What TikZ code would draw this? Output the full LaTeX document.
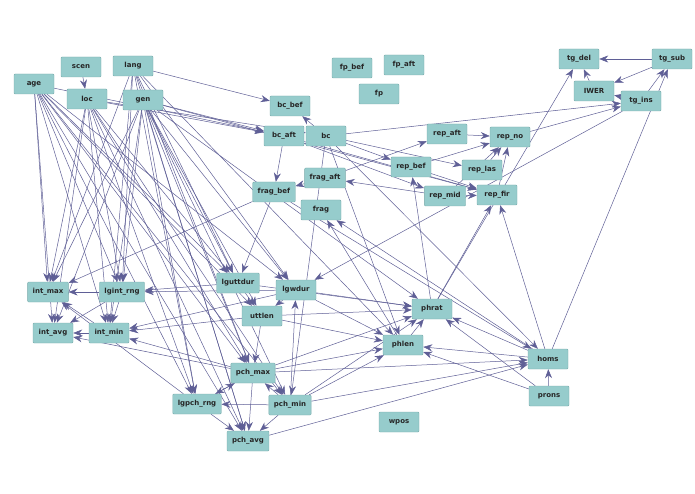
\documentclass[tikz,border=0pt]{standalone}
\usepackage{fontspec}
\setmainfont{DejaVu Sans}
\usetikzlibrary{arrows.meta,backgrounds}
\definecolor{boxfill}{RGB}{150,204,204}
\definecolor{boxline}{RGB}{120,170,170}
\definecolor{edge}{RGB}{95,95,150}
\tikzset{
 nd/.style={draw=boxline,fill=boxfill,rounded corners=1pt,minimum height=20pt,minimum width=40pt,inner xsep=5pt,font=\bfseries\fontsize{7}{8}\selectfont,text=black!85},
 ed/.style={draw=edge,line width=0.5pt,-{Stealth[length=9pt,width=7pt]}},
}
\begin{document}
\begin{tikzpicture}[x=1pt,y=-1pt]
\useasboundingbox (0,0) rectangle (695,494);
\foreach \n/\x/\y/\t in {age/34/84/age,scen/81/67/scen,lang/133/66/lang,loc/87/99/loc,gen/143/100/gen,
 fpbef/352/68/fp\_bef,fpaft/404/65/fp\_aft,fp/379/94/fp,bcbef/290/106/bc\_bef,bcaft/284/136/bc\_aft,bc/326/136/bc,
 repaft/447/134/rep\_aft,repno/510/137/rep\_no,repbef/411/167/rep\_bef,replas/482/170/rep\_las,repmid/445/196/rep\_mid,
 repfir/497/195/rep\_fir,fragaft/325/178/frag\_aft,fragbef/274/192/frag\_bef,frag/321/210/frag,
 tgdel/579/59/tg\_del,tgsub/672/59/tg\_sub,IWER/594/91/IWER,tgins/641/101/tg\_ins,
 intmax/48/292/int\_max,lgintrng/122/292/lgint\_rng,lguttdur/238/283/lguttdur,lgwdur/296/290/lgwdur,uttlen/262/316/uttlen,
 phrat/432/309/phrat,intavg/53/333/int\_avg,intmin/109/333/int\_min,phlen/403/345/phlen,homs/548/359/homs,
 pchmax/253/373/pch\_max,prons/549/396/prons,lgpchrng/197/404/lgpch\_rng,pchmin/290/405/pch\_min,wpos/399/422/wpos,pchavg/248/441/pch\_avg}
 \node[nd] (\n) at (\x,\y) {\t};
\begin{scope}[on background layer]
\foreach \s/\ts in {age/{intmax,intavg,intmin,lgintrng,lguttdur,lgwdur,pchmax,lgpchrng,pchmin,pchavg,uttlen,bcaft},
 loc/{intmax,intavg,intmin,lgintrng,lguttdur,pchmax,lgpchrng,pchmin,pchavg,bc,bcaft},
 lang/{intmax,lgintrng,intmin,lguttdur,lgwdur,pchmax,lgpchrng,pchavg,bcbef,phlen},
 gen/{intmax,intavg,lgintrng,intmin,lguttdur,lgwdur,uttlen,pchmax,lgpchrng,pchmin,pchavg,bcaft,repfir,phrat},
 scen/{loc},
 bc/{bcbef,tgins,repbef,replas,homs,phlen,pchmin},
 bcaft/{repmid,repfir,fragbef},
 fragbef/{intmax,lguttdur,homs},
 fragaft/{fragbef,repaft},
 repmid/{fragaft,repno,repfir},
 repbef/{repno,repfir},
 repaft/{repno},replas/{repno},repfir/{repno},
 repno/{tgins},
 tgsub/{tgdel,IWER},IWER/{tgdel},tgins/{tgsub,IWER,lgwdur},
 homs/{tgsub,phrat,phlen,repfir,frag},
 phrat/{repfir,tgdel,repbef},
 prons/{homs,phlen,phrat},
 pchmin/{phrat,phlen,homs,lgwdur,pchmax,pchavg,lgpchrng},
 pchmax/{phrat,phlen,homs,intmin,intavg,lgpchrng,pchavg},
 lgpchrng/{pchmax,pchavg,intmax},
 intmin/{intmax,intavg},
 lgintrng/{intmax,intmin,intavg},
 lguttdur/{uttlen,phrat,lgintrng},
 lgwdur/{uttlen,phrat,phlen,intmin,lgintrng},
 uttlen/{phrat,phlen,pchmax,intmin},
 phlen/{phrat,frag},
 pchavg/{homs}}
 {\foreach \t in \ts {\draw[ed] (\s) -- (\t);}}
\end{scope}
\end{tikzpicture}
\end{document}
